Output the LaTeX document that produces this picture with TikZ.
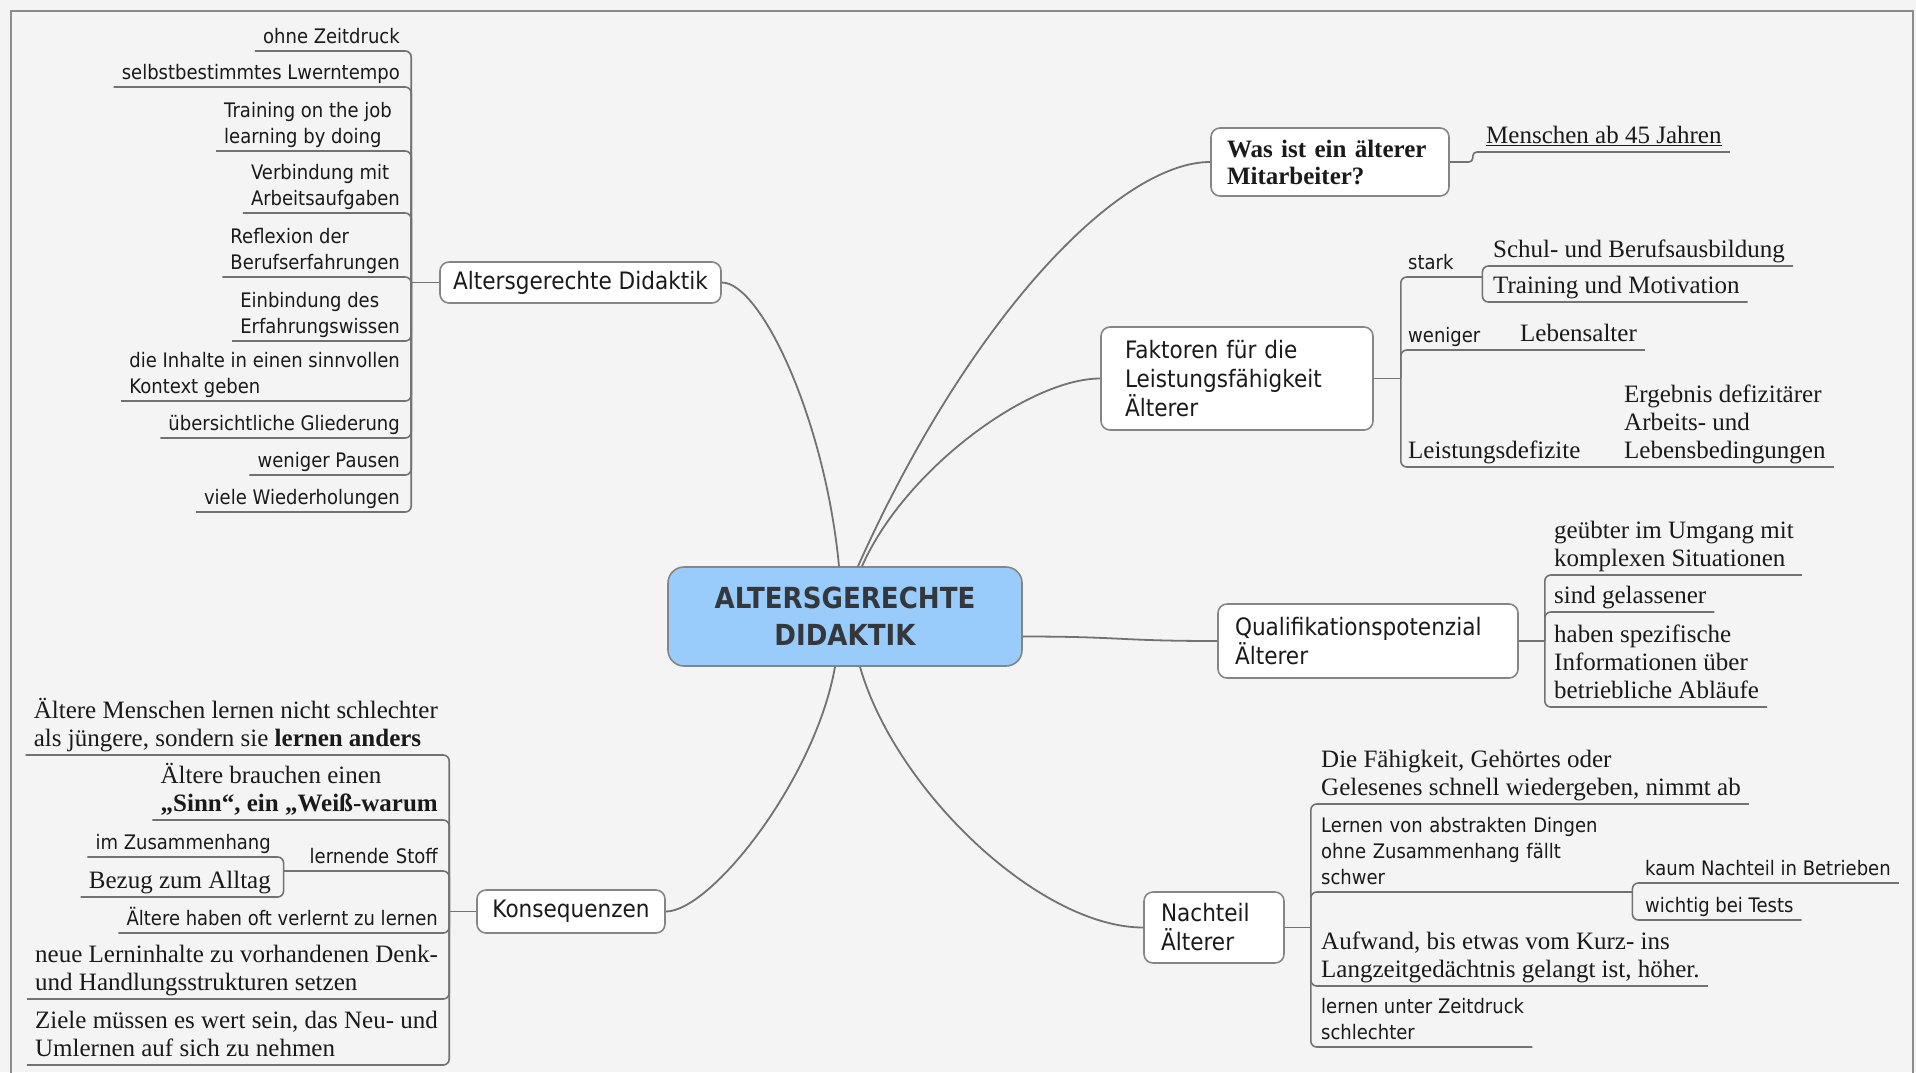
\documentclass[tikz,border=0pt]{standalone}
\usepackage{fontspec}
\newfontfamily\mapsans[FakeStretch=0.9]{DejaVu Sans}
\newfontfamily\mapserif{Liberation Serif}
\newcommand\fleaf{\mapsans\fontsize{20}{26}\selectfont}
\newcommand\ftopic{\mapsans\fontsize{24}{29}\selectfont}
\newcommand\fser{\mapserif\fontsize{25}{28}\selectfont}
\newcommand\fserb{\mapserif\bfseries\fontsize{25}{27}\selectfont}
\newcommand\fcentral{\mapsans\bfseries\fontsize{29}{37}\selectfont}
\definecolor{bg}{HTML}{F4F4F4}
\definecolor{framec}{HTML}{8C8C8C}
\definecolor{linec}{HTML}{727272}
\definecolor{boxc}{HTML}{858585}
\definecolor{txt}{HTML}{1A1A1A}
\definecolor{cfill}{HTML}{99CBFB}
\definecolor{ctext}{HTML}{34383C}
\begin{document}
\begin{tikzpicture}[x=1pt,y=-1pt,
  central/.style={draw=boxc, line width=1.6, fill=cfill, rounded corners=16,
    font=\fcentral, text=ctext, align=center, minimum width=354, minimum height=99},
  topic/.style={draw=boxc, line width=1.6, fill=white, rounded corners=9,
    font=\ftopic, text=txt, align=left, inner ysep=0},
  leaf/.style={font=\fleaf, text=txt, align=left, inner xsep=8, inner ysep=0,
    execute at end node={\strut}},
  sleaf/.style={leaf, font=\fser},
  branch/.style={draw=linec, line width=1.6, rounded corners=6},
  conn/.style={draw=linec, line width=1.8}]

% canvas and frame
\useasboundingbox (0,0) rectangle (1916,1072);
\fill[bg] (0,0) rectangle (1916,1072);
\draw[framec, line width=2] (11,1080) -- (11,11) -- (1913,11) -- (1913,1080);

% main topics
\node[central] (c) at (845,616.5) {ALTERSGERECHTE\\DIDAKTIK};
\node[topic, align=center, minimum width=281, minimum height=41] (alt) at (580.5,282.5) {Altersgerechte Didaktik};
\node[topic, align=center, minimum width=188, minimum height=43] (kons) at (571,911.5) {Konsequenzen};
\node[topic, font=\fserb, text width=206, inner xsep=16, minimum height=68] (was) at (1330,162) {Was ist ein älterer\\Mitarbeiter?};
\node[topic, text width=224, inner xsep=24, minimum height=103] (fak) at (1237,378.5) {Faktoren für die\\Leistungsfähigkeit\\Älterer};
\node[topic, text width=266, inner xsep=17, minimum height=74] (quali) at (1368,641) {Qualifikationspotenzial\\Älterer};
\node[topic, text width=106, inner xsep=17, minimum height=71] (nach) at (1214,927.5) {Nachteil\\Älterer};

% connectors from the centre
\draw[conn] ([xshift=-6]c.north) .. controls +(-14,-147) and +(39,0) .. (alt.east);
\draw[conn] ([xshift=13]c.north) .. controls +(112,-250) and +(-91,0) .. (was.west);
\draw[conn] ([xshift=17]c.north) .. controls +(43,-97) and +(-71,0) .. (fak.west);
\draw[conn] ([yshift=-20]c.east) .. controls +(100,0) and +(-100,0) .. (quali.west);
\draw[conn] ([xshift=-10]c.south) .. controls +(-20,113) and +(45,0) .. (kons.east);
\draw[conn] ([xshift=15]c.south) .. controls +(35,123) and +(-104,0) .. (nach.west);

% Altersgerechte Didaktik
\node[leaf, anchor=south east] (a1) at (408,51) {ohne Zeitdruck};
\node[leaf, anchor=south east] (a2) at (408,87) {selbstbestimmtes Lwerntempo};
\node[leaf, anchor=south east] (a3) at (400,151) {Training on the job\\learning by doing};
\node[leaf, anchor=south east] (a4) at (408,213) {Verbindung mit\\Arbeitsaufgaben};
\node[leaf, anchor=south east] (a5) at (408,277) {Reflexion der\\Berufserfahrungen};
\node[leaf, anchor=south east] (a6) at (408,341) {Einbindung des\\Erfahrungswissen};
\node[leaf, anchor=south east] (a7) at (408,401) {die Inhalte in einen sinnvollen\\Kontext geben};
\node[leaf, anchor=south east] (a8) at (408,438) {übersichtliche Gliederung};
\node[leaf, anchor=south east] (a9) at (408,475) {weniger Pausen};
\node[leaf, anchor=south east] (a10) at (408,512) {viele Wiederholungen};
\coordinate (ah) at ([xshift=-28]alt.west);
\draw[branch] (alt.west) -- (ah);
\foreach \n in {a1,a2,a3,a4,a5,a6,a7,a8,a9,a10}
  \draw[branch] (ah) |- (\n.south west);

% Konsequenzen
\node[sleaf, anchor=south east] (k1) at (446,755) {Ältere Menschen lernen nicht schlechter\\als jüngere, sondern sie \textbf{lernen anders}};
\node[sleaf, anchor=south east] (k2) at (446,820) {Ältere brauchen einen\\\textbf{„Sinn“, ein „Weiß-warum}};
\node[leaf, anchor=south east, text width=146, align=right] (stoff) at (446,871) {lernende Stoff};
\node[leaf, anchor=south east] (zus) at (279,857) {im Zusammenhang};
\node[sleaf, anchor=south east] (bezug) at (279,897) {Bezug zum Alltag};
\node[leaf, anchor=south east] (k4) at (446,933) {Ältere haben oft verlernt zu lernen};
\node[sleaf, anchor=south east] (k5) at (446,999) {neue Lerninhalte zu vorhandenen Denk-\\und Handlungsstrukturen setzen};
\node[sleaf, anchor=south east] (k6) at (446,1065) {Ziele müssen es wert sein, das Neu- und\\Umlernen auf sich zu nehmen};
\coordinate (kh) at ([xshift=-27]kons.west);
\draw[branch] (kons.west) -- (kh);
\foreach \n in {k1,k2,stoff,k4,k5,k6}
  \draw[branch] (kh) |- (\n.south west);
\draw[branch] (stoff.south west) |- (zus.south west);
\draw[branch] (stoff.south west) |- (bezug.south west);

% Was ist ein älterer Mitarbeiter?
\node[sleaf, anchor=south west] (m45) at (1478,152) {\underline{Menschen ab 45 Jahren}};
\draw[branch, rounded corners=4] (was.east) -- ([xshift=23]was.east) |- (m45.south east);

% Faktoren
\node[leaf, anchor=south west, text width=66] (stark) at (1400,277) {stark};
\node[sleaf, anchor=south west] (schul) at (1485,266) {Schul- und Berufsausbildung};
\node[sleaf, anchor=south west] (train) at (1485,302) {Training und Motivation};
\node[leaf, anchor=south west, text width=96] (weniger) at (1400,350) {weniger};
\node[sleaf, anchor=south west] (leb) at (1512,350) {Lebensalter};
\node[sleaf, anchor=south west, text width=197] (defizit) at (1400,467) {Leistungsdefizite};
\node[sleaf, anchor=south west] (ergeb) at (1616,467) {Ergebnis defizitärer\\Arbeits- und\\Lebensbedingungen};
\coordinate (fh) at ([xshift=27]fak.east);
\draw[branch] (fak.east) -- (fh);
\foreach \n in {stark,weniger,defizit}
  \draw[branch] (fh) |- (\n.south east);
\draw[branch] (stark.south east) |- (schul.south east);
\draw[branch] (stark.south east) |- (train.south east);
\draw[branch] (weniger.south east) -- (leb.south east);
\draw[branch] (defizit.south east) -- (ergeb.south east);

% Qualifikationspotenzial
\node[sleaf, anchor=south west] (q1) at (1546,575) {geübter im Umgang mit\\komplexen Situationen};
\node[sleaf, anchor=south west] (q2) at (1546,612) {sind gelassener};
\node[sleaf, anchor=south west] (q3) at (1546,707) {haben spezifische\\Informationen über\\betriebliche Abläufe};
\coordinate (qh) at ([xshift=26]quali.east);
\draw[branch] (quali.east) -- (qh);
\foreach \n in {q1,q2,q3}
  \draw[branch] (qh) |- (\n.south east);

% Nachteil
\node[sleaf, anchor=south west] (n1) at (1313,804) {Die Fähigkeit, Gehörtes oder\\Gelesenes schnell wiedergeben, nimmt ab};
\node[leaf, anchor=south west, text width=303] (n2) at (1313,892) {Lernen von abstrakten Dingen\\ohne Zusammenhang fällt\\schwer};
\node[leaf, anchor=south west] (kaum) at (1637,883) {kaum Nachteil in Betrieben};
\node[leaf, anchor=south west] (wichtig) at (1637,920) {wichtig bei Tests};
\node[sleaf, anchor=south west] (n3) at (1313,986) {Aufwand, bis etwas vom Kurz- ins\\Langzeitgedächtnis gelangt ist, höher.};
\node[leaf, anchor=south west] (n4) at (1313,1047) {lernen unter Zeitdruck\\schlechter};
\coordinate (nh) at ([xshift=26]nach.east);
\draw[branch] (nach.east) -- (nh);
\foreach \n in {n1,n2,n3,n4}
  \draw[branch] (nh) |- (\n.south east);
\draw[branch] (n2.south east) |- (kaum.south east);
\draw[branch] (n2.south east) |- (wichtig.south east);
\end{tikzpicture}
\end{document}
